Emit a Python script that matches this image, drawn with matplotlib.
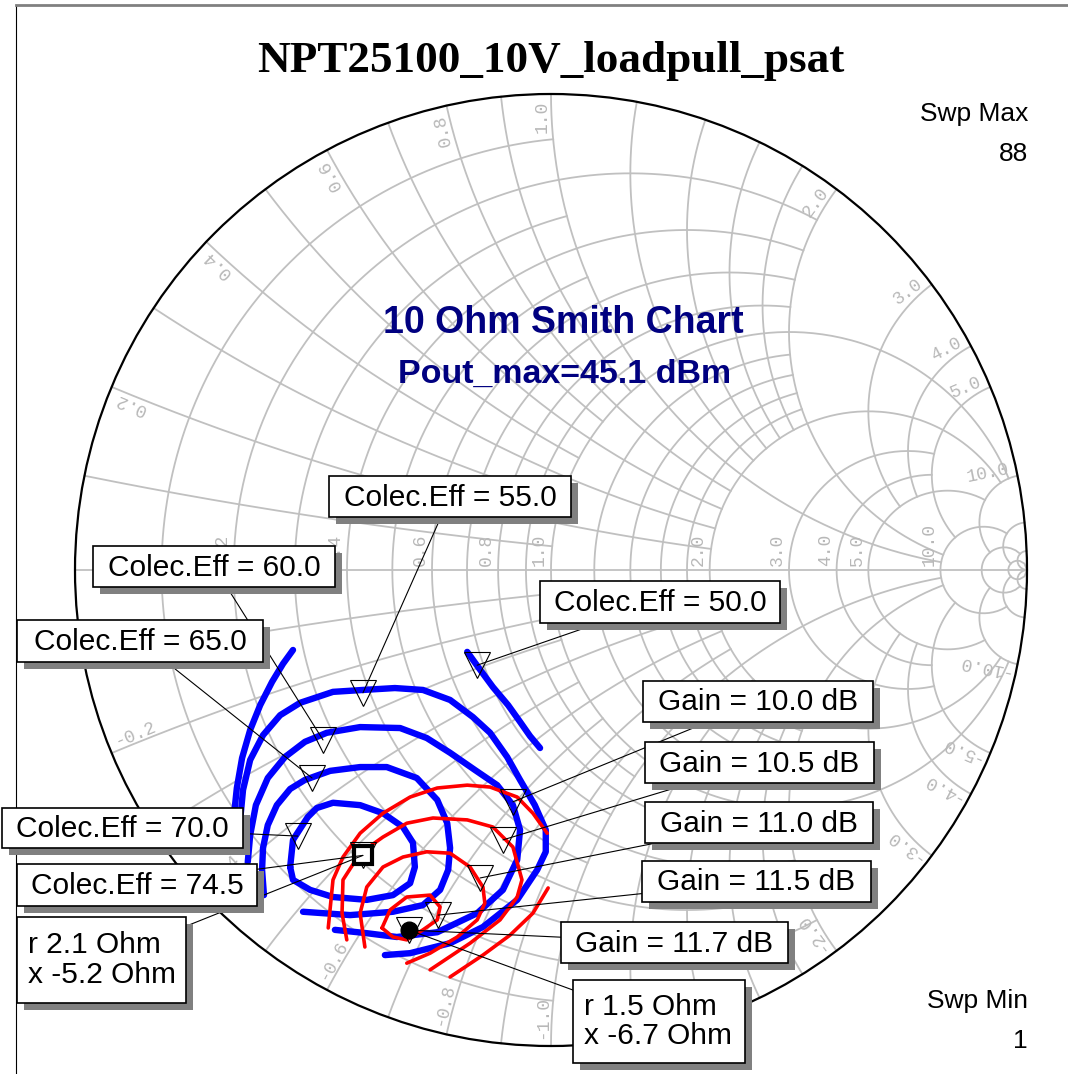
import numpy as np
import matplotlib.pyplot as plt
import matplotlib.transforms as mtransforms
from matplotlib.patches import Rectangle, Circle, ConnectionPatch
from matplotlib.lines import Line2D

W, H = 1068, 1074
CX, CY, RAD = 551, 570, 476      # where the unit circle sits on the page (pixels)
Z0 = 10.0                         # ohm, reference of the chart

# ---- smith chart grid: value and how far each line runs (normalised) ----
r_circles = [0.1, 0.2, 0.3, 0.4, 0.5, 0.6, 0.7, 0.8, 0.9, 1.0, 1.2, 1.4, 1.6, 1.8, 2.0, 3.0, 4.0, 5.0, 10.0, 20.0, 50.0]
r_limits  = [1.0, 2.0, 1.0, 2.0, 1.0, 2.0, 1.0, 2.0, 1.0, 10.0, 2.0, 2.0, 2.0, 2.0, 10.0, 5.0, 5.0, 10.0, 20.0, 50.0, np.inf]
x_arcs    = r_circles
x_limits  = r_limits
grid_labels = [0.2, 0.4, 0.6, 0.8, 1.0, 2.0, 3.0, 4.0, 5.0, 10.0]

# ---- load pull data (reflection coefficient, re / im) ----
eff_levels = [50.0, 55.0, 60.0, 65.0, 70.0]
eff_max = 74.5
gain_levels = [10.0, 10.5, 11.0, 11.5]
gain_max = 11.7
z_eff_max = (2.1, -5.2)     # ohm
z_gain_max = (1.5, -6.7)    # ohm

# collector efficiency contours
eff50a_re = [-0.176, -0.153, -0.122, -0.090, -0.065, -0.044, -0.023]
eff50a_im = [-0.172, -0.204, -0.246, -0.284, -0.319, -0.349, -0.374]
eff50b_re = [-0.542, -0.563, -0.586, -0.611, -0.632, -0.649, -0.660, -0.666]
eff50b_im = [-0.168, -0.197, -0.235, -0.284, -0.336, -0.395, -0.458, -0.515]
eff55_re = [-0.653, -0.647, -0.632, -0.605, -0.569, -0.527, -0.458, -0.395, -0.328, -0.269, -0.212, -0.164,
            -0.128, -0.092, -0.065, -0.034, -0.011, -0.011, -0.029, -0.071, -0.143, -0.212, -0.296, -0.349]
eff55_im = [-0.525, -0.462, -0.399, -0.347, -0.305, -0.279, -0.256, -0.252, -0.248, -0.252, -0.273, -0.309,
            -0.342, -0.393, -0.441, -0.494, -0.546, -0.592, -0.630, -0.693, -0.750, -0.784, -0.805, -0.809]
eff60_re = [-0.637, -0.632, -0.620, -0.595, -0.559, -0.517, -0.471, -0.401, -0.317, -0.261, -0.212,
            -0.160, -0.113, -0.080, -0.065, -0.071, -0.101, -0.155, -0.239, -0.324, -0.387, -0.454]
eff60_im = [-0.613, -0.557, -0.494, -0.437, -0.393, -0.361, -0.342, -0.330, -0.332, -0.353, -0.384,
            -0.420, -0.452, -0.494, -0.546, -0.609, -0.672, -0.721, -0.761, -0.771, -0.763, -0.756]
eff65_re = [-0.603, -0.607, -0.605, -0.595, -0.576, -0.548, -0.517, -0.464, -0.401, -0.345, -0.282,
            -0.239, -0.218, -0.212, -0.216, -0.233, -0.269, -0.332, -0.422, -0.521]
eff65_im = [-0.683, -0.630, -0.584, -0.536, -0.494, -0.460, -0.441, -0.422, -0.414, -0.414, -0.437,
            -0.483, -0.532, -0.584, -0.630, -0.672, -0.704, -0.718, -0.725, -0.718]
eff70_re = [-0.548, -0.542, -0.511, -0.492, -0.458, -0.401, -0.353, -0.311, -0.290, -0.286, -0.296,
            -0.332, -0.387, -0.458, -0.506, -0.542, -0.548]
eff70_im = [-0.624, -0.567, -0.519, -0.500, -0.489, -0.494, -0.511, -0.540, -0.573, -0.624, -0.658,
            -0.683, -0.693, -0.687, -0.672, -0.651, -0.624]

# gain contours
gain10a_re = [-0.468, -0.458, -0.437, -0.401, -0.353, -0.296, -0.239, -0.176, -0.128, -0.071, -0.038, -0.008]
gain10a_im = [-0.752, -0.651, -0.603, -0.553, -0.511, -0.477, -0.458, -0.452, -0.456, -0.477, -0.511, -0.553]
gain10b_re = [-0.006, -0.038, -0.086, -0.143, -0.212]
gain10b_im = [-0.668, -0.721, -0.767, -0.809, -0.855]
gain105_re = [-0.429, -0.439, -0.437, -0.401, -0.353, -0.303, -0.248, -0.176, -0.122, -0.080, -0.061,
              -0.071, -0.107, -0.170, -0.254]
gain105_im = [-0.777, -0.721, -0.651, -0.595, -0.561, -0.532, -0.521, -0.525, -0.540, -0.582, -0.651,
              -0.687, -0.735, -0.784, -0.840]
gain11_re = [-0.391, -0.401, -0.387, -0.353, -0.311, -0.261, -0.212, -0.170, -0.143, -0.139, -0.155,
             -0.197, -0.254, -0.303]
gain11_im = [-0.792, -0.721, -0.666, -0.624, -0.603, -0.592, -0.595, -0.624, -0.666, -0.700, -0.735,
             -0.771, -0.805, -0.826]
gain115_re = [-0.355, -0.338, -0.303, -0.254, -0.233, -0.239, -0.269, -0.303, -0.332, -0.355]
gain115_im = [-0.752, -0.714, -0.687, -0.683, -0.708, -0.735, -0.756, -0.777, -0.771, -0.752]

# marker positions on the contours (same order as the levels)
eff_mark_re = [-0.155, -0.395, -0.479, -0.502, -0.532]
eff_mark_im = [-0.200, -0.258, -0.357, -0.437, -0.559]
gain_mark_re = [-0.080, -0.101, -0.149, -0.237]
gain_mark_im = [-0.487, -0.567, -0.647, -0.725]

GRID = '#c0c0c0'
BLUE = '#0000ff'
RED = '#ff0000'


def gam(z):
    return (z - 1) / (z + 1)


def zgam(z_ohm):
    g = gam(complex(z_ohm[0], z_ohm[1]) / Z0)
    return g.real, g.imag


fig = plt.figure(figsize=(W / 100, H / 100), dpi=100)
ax = fig.add_axes([0, 0, 1, 1])
ax.set_xlim(-CX / RAD, (W - CX) / RAD)
ax.set_ylim((CY - H) / RAD, CY / RAD)
ax.axis('off')
T = mtransforms.Affine2D().scale(1 / W, -1 / H).translate(0, 1) + fig.transFigure

# grid
for r, lim in zip(r_circles, r_limits):
    t = np.linspace(-np.arctan(lim), np.arctan(lim), 400)
    g = gam(r + 1j * np.tan(t))
    ax.plot(g.real, g.imag, color=GRID, lw=1.3, zorder=1)
for x, lim in zip(x_arcs, x_limits):
    t = np.linspace(0, np.arctan(lim), 400)
    for s in (1, -1):
        g = gam(np.tan(t) + 1j * s * x)
        ax.plot(g.real, g.imag, color=GRID, lw=1.3, zorder=1)
ax.plot([-1, 1], [0, 0], color=GRID, lw=1.3, zorder=1)
ax.add_patch(Circle((0, 0), 1, fill=False, color='black', lw=1.6, zorder=2))

lab_font = dict(family='Liberation Mono', size=13, color='#b8b8b8', rotation_mode='anchor')
for v in grid_labels:
    gx = gam(v)
    ax.text(gx - 0.006, 0.008, f'{v:.1f}', rotation=90, ha='left', va='bottom', **lab_font)
    th = np.pi - 2 * np.arctan(v)
    ax.text(0.985 * np.cos(th), 0.985 * np.sin(th), f'{v:.1f}', rotation=np.degrees(th),
            ha='right', va='bottom', **lab_font)
    ax.text(0.985 * np.cos(-th), 0.985 * np.sin(-th), f'-{v:.1f}', rotation=np.degrees(-th) + 180,
            ha='left', va='bottom', **lab_font)

# contours
for re, im in [(eff50a_re, eff50a_im), (eff50b_re, eff50b_im), (eff55_re, eff55_im),
               (eff60_re, eff60_im), (eff65_re, eff65_im), (eff70_re, eff70_im)]:
    ax.plot(re, im, color=BLUE, lw=4.6, solid_capstyle='round', solid_joinstyle='round', zorder=5)
for re, im in [(gain10a_re, gain10a_im), (gain10b_re, gain10b_im), (gain105_re, gain105_im),
               (gain11_re, gain11_im), (gain115_re, gain115_im)]:
    ax.plot(re, im, color=RED, lw=2.6, solid_capstyle='round', solid_joinstyle='round', zorder=6)

# markers
tri = dict(marker='v', ls='none', ms=19, mfc='none', mec='black', mew=0.8, zorder=7)
ax.plot(eff_mark_re, eff_mark_im, **tri)
ax.plot(gain_mark_re, gain_mark_im, **tri)
pe = zgam(z_eff_max)
pg = zgam(z_gain_max)
ax.plot(*pe, **tri)
ax.plot(*pg, **tri)
ax.plot(*pe, 's', ms=13, mfc='white', mec='black', mew=3, zorder=8)
ax.plot(*pg, 'o', ms=12, mfc='black', mec='black', zorder=8)

# boxes with leaders
notes = [
    (f'Colec.Eff = {eff_levels[1]:.1f}', (329, 476, 571, 517), (eff_mark_re[1], eff_mark_im[1])),
    (f'Colec.Eff = {eff_levels[2]:.1f}', (93, 546, 335, 587), (eff_mark_re[2], eff_mark_im[2])),
    (f'Colec.Eff = {eff_levels[3]:.1f}', (17, 620, 263, 662), (eff_mark_re[3], eff_mark_im[3])),
    (f'Colec.Eff = {eff_levels[0]:.1f}', (540, 581, 780, 623), (eff_mark_re[0], eff_mark_im[0])),
    (f'Colec.Eff = {eff_levels[4]:.1f}', (2, 808, 243, 848), (eff_mark_re[4], eff_mark_im[4])),
    (f'Colec.Eff = {eff_max:.1f}', (17, 864, 257, 906), pe),
    (f'r {z_eff_max[0]:.1f} Ohm\nx {z_eff_max[1]:.1f} Ohm', (17, 917, 186, 1003), pe),
    (f'Gain = {gain_levels[0]:.1f} dB', (643, 681, 873, 722), (gain_mark_re[0], gain_mark_im[0])),
    (f'Gain = {gain_levels[1]:.1f} dB', (645, 742, 874, 783), (gain_mark_re[1], gain_mark_im[1])),
    (f'Gain = {gain_levels[2]:.1f} dB', (645, 802, 873, 843), (gain_mark_re[2], gain_mark_im[2])),
    (f'Gain = {gain_levels[3]:.1f} dB', (642, 861, 871, 902), (gain_mark_re[3], gain_mark_im[3])),
    (f'Gain = {gain_max:.1f} dB', (561, 922, 788, 963), pg),
    (f'r {z_gain_max[0]:.1f} Ohm\nx {z_gain_max[1]:.1f} Ohm', (573, 980, 745, 1063), pg),
]
for txt, (x0, y0, x1, y1), pt in notes:
    sh = Rectangle((x0 + 7, y0 + 7), x1 - x0, y1 - y0, transform=T, fc='#808080', ec='none', zorder=11)
    bx = Rectangle((x0, y0), x1 - x0, y1 - y0, transform=T, fc='white', ec='black', lw=1.2, zorder=12)
    cp = ConnectionPatch(xyA=((x0 + x1) / 2, (y0 + y1) / 2), coordsA=T, xyB=pt, coordsB=ax.transData,
                         patchA=bx, arrowstyle='-', lw=0.8, color='black', zorder=10)
    fig.add_artist(cp)
    fig.add_artist(sh)
    fig.add_artist(bx)
    if '\n' in txt:
        fig.text(x0 + 11, (y0 + y1) / 2, txt, transform=T, ha='left', va='center', fontsize=21.5,
                 family='Liberation Sans', linespacing=1.05, zorder=13)
    else:
        fig.text((x0 + x1) / 2, (y0 + y1) / 2 + 1, txt, transform=T, ha='center', va='center',
                 fontsize=21.5, family='Liberation Sans', zorder=13)

# titles and sweep text
fig.text(551, 72, 'NPT25100_10V_loadpull_psat', transform=T, ha='center', va='baseline',
         fontsize=32.5, family='Liberation Serif', weight='bold')
fig.text(563, 333, '10 Ohm Smith Chart', transform=T, ha='center', va='baseline',
         fontsize=27, family='Liberation Sans', weight='bold', color='#000080')
fig.text(565, 383, 'Pout_max=45.1 dBm', transform=T, ha='center', va='baseline',
         fontsize=24.5, family='Liberation Sans', weight='bold', color='#000080')
fig.text(1028, 121, 'Swp Max', transform=T, ha='right', va='baseline', fontsize=19, family='Liberation Sans')
fig.text(1028, 161, '88', transform=T, ha='right', va='baseline', fontsize=19, family='Liberation Sans')
fig.text(1028, 1008, 'Swp Min', transform=T, ha='right', va='baseline', fontsize=19, family='Liberation Sans')
fig.text(1028, 1048, '1', transform=T, ha='right', va='baseline', fontsize=19, family='Liberation Sans')

fig.add_artist(Line2D([16, 16], [5, H], transform=T, color='black', lw=0.8))
fig.add_artist(Line2D([16, W], [5, 5], transform=T, color='#808080', lw=2))

fig.savefig('out.png', dpi=100)
